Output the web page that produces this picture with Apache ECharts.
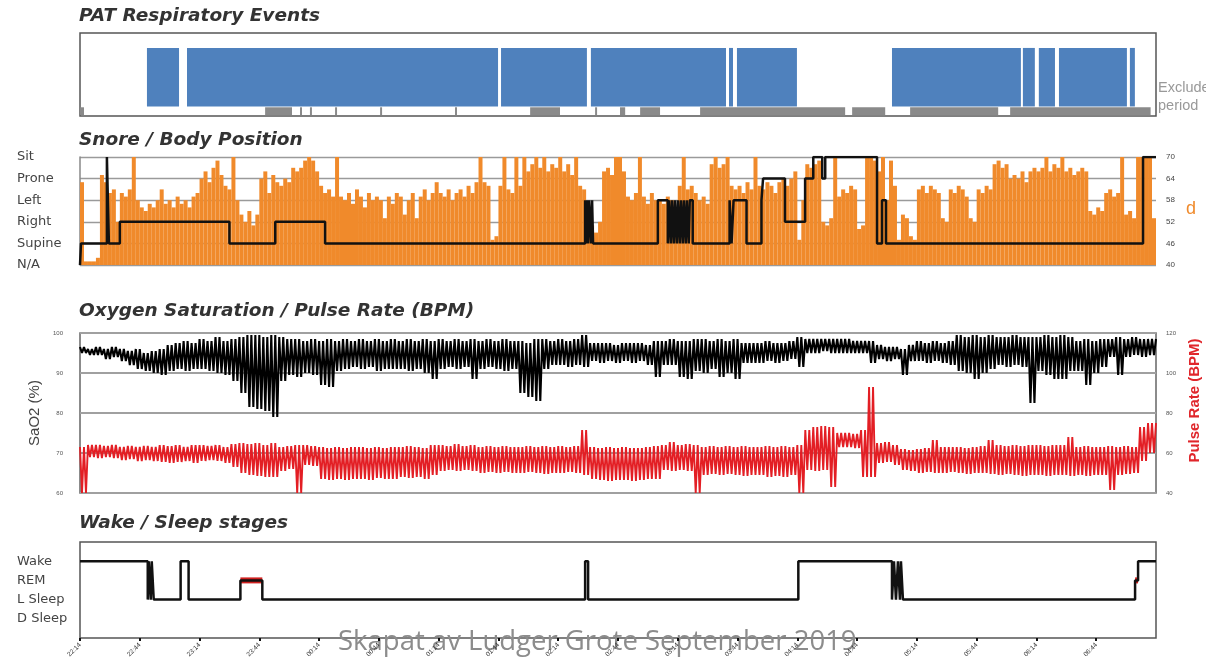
<!DOCTYPE html>
<html><head><meta charset="utf-8">
<script src="https://cdn.jsdelivr.net/npm/echarts@6/dist/echarts.min.js"></script>
<style>html,body{margin:0;padding:0;background:#fff}#c{width:1206px;height:672px}</style>
</head><body><div id="c"></div>
<script>
// ---- time axis (minutes from start of recording) ----
const tickLabels = ['22:14','22:44','23:14','23:44','00:14','00:44','01:14','01:44','02:14','02:44','03:14','03:44','04:14','04:44','05:14','05:44','06:14','06:44'];

// ---- PAT respiratory events (valid periods) and exclusion periods ----
const eventStart = [33.6,53.7,211.3,256.4,325.7,329.7,407.5,473.2,481.2,491.3,526.9];
const eventEnd   = [49.7,209.8,254.4,324.2,327.7,359.8,472.2,479.2,489.3,525.4,529.4];
const exclStart = [0,92.9,110.4,115.4,128,150.6,188.2,225.9,258.5,271,281.1,311.2,387.5,416.6,466.8];
const exclEnd   = [2,106.4,111.4,116.4,129,151.6,189.2,240.9,259.5,273.6,291.1,384.0,404.1,460.8,537.3];

// ---- Snore (dB), one value per 2 minutes ----
const snoreDb = [
63,41,41,41,42, 65,63,60,61,52, 60,59,61,70,58, 56,55,57,56,58, 61,57,58,56,59,
57,58,56,59,60, 64,66,63,67,69, 65,62,61,70,58, 54,52,55,51,54, 64,66,60,65,63,
62,64,63,67,66, 67,69,70,69,66, 62,60,61,59,70, 59,58,60,57,61, 59,56,60,58,59,
58,53,59,57,60, 59,54,58,60,53, 59,61,58,60,63, 60,59,61,58,60, 61,59,62,60,63,
70,63,62,47,48, 62,70,61,60,70, 62,70,66,68,70, 67,70,66,68,67, 70,66,68,65,70,
62,61,50,51,49, 52,66,67,65,70, 70,66,59,58,60, 70,59,57,60,58, 58,57,59,58,56,
62,70,61,62,60, 58,59,57,68,70, 67,68,70,62,61, 62,60,63,61,70, 62,61,63,62,60,
63,64,62,64,66, 47,58,68,67,68, 69,52,51,53,70, 59,61,60,62,61, 50,51,70,70,69,
66,70,58,69,62, 47,54,53,48,47, 61,62,60,62,61, 60,53,52,61,60, 62,61,59,53,52,
61,60,62,61,68, 69,67,68,64,65, 64,66,63,66,67, 66,67,70,66,68, 67,70,66,67,65,
66,67,66,55,54, 56,55,60,61,59, 60,70,54,55,53, 70,70,70,70,53
];
const snoreTicks = [40,46,52,58,64,70];

// ---- Body position (0 N/A,1 Supine,2 Right,3 Left,4 Prone,5 Sit) ----
const positionLabels = ['N/A','Supine','Right','Left','Prone','Sit'];
const posTime  = [0,0.5,13.5,14.5,20,75,98,123,
  253.5,254,254.5,255,255.5,256.5,257,257.5,
  290,295,295.5,296.5,297,298,298.5,299.5,300,301,301.5,302.5,303,304,304.5,305.5,306,307.5,
  326,327,328,334.5,342,342.8,353.8,363.9,368,372.5,374,400,402.5,404.5,533.5,540];
const posLevel = [0,1,5,1,2,1,2,1,
  3,1,3,1,3,1,3,1,
  3,1,3,1,3,1,3,1,3,1,3,1,3,1,3,1,3,1,
  3,1,3,1,3,4,2,4,5,4,5,1,3,1,5,5];

// ---- SaO2 (%) and pulse rate (BPM), high/low per 4-minute slot ----
const spo2Hi = [
96.5,96,96.5,96,96.5, 96,95.5,96,95,95.5, 96,97,97.5,98,97.5, 98.5,98,99,98,98.5,
99,99.5,99.5,99,99.5, 99,98.5,98.5,98,98.5, 98,98.5,98,98.5,98, 98.5,98,98.5,98,98.5,
98,98.5,98,98.5,98, 98.5,98,98.5,98,98.5, 98,98.5,98,98.5,98, 98,97.5,98.5,98.5,98,
98.5,98,98.5,99.5,97.5, 97.5,97.5,97,97.5,97.5, 97.5,97,98,98,98.5, 98,98,98.5,98.5,98,
98.5,98,98.5,97.5,97.5, 97.5,98,97.5,97.5,98, 99,98.5,98.5,98.5,98.5, 98.5,98.5,98,98,98,
97,96.5,96.5,96,97, 98,97.5,98,97.5,98, 99.5,99,99.5,99,99.5, 99,99,99.5,99,99,
99,99.5,99,99.5,99, 98,98.5,98,98.5,98.5, 99,98.5,99,98.5,98.5];
const spo2Lo = [
95,94.5,94.5,93.5,94, 93,92,91,90.5,90, 89.5,90.5,91,90.5,91, 91,90.5,90,89.5,88,
85,81.5,81,80.5,79, 88,89.5,89,90,89.5, 87,86.5,90.5,91,91.5, 91,91.5,90.5,91,91,
91,90.5,91,90,88.5, 91,91.5,91,91.5,88.5, 91,91.5,91,90.5,91, 85,84,83,91,92,
92,91.5,92,91.5,93, 92.5,93,92.5,93,92.5, 93,92,89,92,92, 89,88.5,90.5,90,91,
89,90,88.5,92.5,92.5, 92.5,93,92.5,93,93.5, 91.5,95,95,95.5,95, 95,95,95,95,92.5,
93.5,93,93.5,89.5,93, 93,92.5,93,92.5,92, 90.5,90,88.5,90,91, 92,91.5,92,91.5,82.5,
90.5,89.5,88.5,88.5,90.5, 90.5,87,90,91.5,94, 89.5,94,94.5,94,94.5];
const pulseHi = [
63,64,64,63.5,64, 63,63.5,63,63.5,63, 64,63.5,64,63,64, 64,63.5,64,63,64.5,
65,64.5,65,64,65, 63,63.5,64,64,63.5, 63,62.5,63,62.5,63, 63,62.5,63,62.5,63,
63,63.5,63,62.5,64, 64,63.5,64.5,63.5,64, 63,63.5,63,63.5,63, 63,63.5,63,63.5,63,
63.5,63,63.5,71.5,63, 62.5,63,62.5,63,62.5, 62.5,63,63.5,64,65.5, 64,64.5,64,63,63.5,
63,63.5,63,63.5,63, 63,63.5,63,63.5,63, 64,71.5,73,73.5,73, 70,70,69.5,71.5,93,
65,65.5,64,62,61.5, 62,62.5,66.5,63,63, 63,62.5,63,63.5,66.5, 64,63.5,64,63.5,64,
64,63.5,64,64,68, 63,63.5,63,63,63.5, 63,63.5,63,73,75];
const pulseLo = [
40,58,57.5,58,57.5, 56.5,57,56,56.5,56, 55.5,55,55.5,56,55, 56,56.5,56,55,53,
50,49,48.5,48,48, 51,52,40,54,53.5, 47,46.5,47,46.5,47, 47,46.5,47.5,47,47,
48,47.5,48,47,49, 51,51.5,51,51.5,51, 50,50.5,50,50.5,50, 50,50.5,50,49.5,50,
50,50.5,50,49,47, 46.5,46,46.5,46.5,46, 46.5,47,47,51.5,51, 51.5,51,40,49,49.5,
49,49.5,49,48.5,49, 49,48,48.5,48,49, 40,51.5,51,51.5,43, 63,63,62.5,48,48,
55,55.5,54,51.5,51, 50,50.5,50,50,50.5, 50,49.5,50,50,49.5, 49,49.5,49,48.5,49,
49,48.5,49,49,48.5, 49,48.5,49,49,41.5, 49,49.5,50,56,60];

// ---- Sleep stages (0 D Sleep,1 L Sleep,2 REM,3 Wake) ----
const stageLabels = ['D Sleep','L Sleep','REM','Wake'];
const stageTime  = [0,34,34.5,35.5,36,37,50.5,54.5,80.5,91.5,253.5,255,360.5,407.5,408.5,409.5,410.5,411.5,412,413,529.5,531,540];
const stageLevel = [3,1,3,1,3,1,3,1,2,1,3,1,3,1,3,1,3,1,3,1,2,3,3];

// ---- build series data ----
const zig = (hi, lo) => {
  const out = [];
  hi.forEach((h, j) => {
    out.push([4*j, h], [4*j+1, lo[j]], [4*j+2, h], [4*j+3, lo[j]]);
  });
  out.push([540, hi[hi.length-1]]);
  return out;
};
const remSegs = [];
stageLevel.forEach((l, i) => { if (l === 2 && i < stageTime.length-1) remSegs.push([stageTime[i], stageTime[i+1]]); });

const rectItem = (y0, y1, fill) => (params, api) => {
  const a = api.coord([api.value(0), y0]);
  const b = api.coord([api.value(1), y1]);
  return {type:'rect', shape:{x:a[0], y:b[1], width:Math.max(b[0]-a[0],1), height:a[1]-b[1]}, style:{fill}};
};
const hid = gi => ({type:'value', gridIndex:gi, min:0, max:540, show:false});
const gridBase = {left:80, right:50, outerBoundsMode:'none', containLabel:false};

const titleFont = {fontFamily:'DejaVu Sans', fontWeight:'bold', fontStyle:'italic', fontSize:18.5, fill:'#333'};
const mkTitle = (text, y) => ({type:'text', left:79, top:y, style:Object.assign({text}, titleFont)});
const sideFont = {fontSize:13, fontFamily:'DejaVu Sans', color:'#444'};

const chart = echarts.init(document.getElementById('c'), null, {renderer:'canvas'});
chart.setOption({
  animation:false,
  backgroundColor:'#fff',
  grid:[
    Object.assign({top:33, height:83, show:true, borderColor:'#555', borderWidth:1.5}, gridBase),
    Object.assign({top:157, height:108}, gridBase),
    Object.assign({top:333, height:160, show:true, borderColor:'#666', borderWidth:1.5}, gridBase),
    Object.assign({top:542, height:96, show:true, borderColor:'#555', borderWidth:1.5}, gridBase)
  ],
  xAxis:[
    hid(0),
    {type:'category', gridIndex:1, data:snoreDb.map((_, i) => i), show:false, boundaryGap:true},
    hid(1),
    hid(2),
    {type:'value', gridIndex:3, min:0, max:540, interval:30, position:'bottom',
     axisLine:{show:false, onZero:false},
     axisTick:{show:true, length:3, lineStyle:{color:'#111', width:2}},
     splitLine:{show:false},
     axisLabel:{rotate:45, fontSize:6.5, color:'#333', margin:6, showMaxLabel:false,
                formatter:v => tickLabels[Math.round(v/30)] || ''}}
  ],
  yAxis:[
    {type:'value', gridIndex:0, min:0, max:10, show:false},
    {type:'value', gridIndex:1, min:0, max:5, interval:1, position:'left',
     axisLine:{show:true, lineStyle:{color:'#888', width:1.5}}, axisTick:{show:false},
     splitLine:{show:true, lineStyle:{color:'#9a9a9a', width:1.3}},
     axisLabel:Object.assign({align:'left', margin:63, formatter:v => positionLabels[v]}, sideFont)},
    {type:'value', gridIndex:1, min:40, max:70, interval:6, position:'right',
     axisLine:{show:false}, axisTick:{show:false}, splitLine:{show:false},
     axisLabel:{fontSize:8, color:'#444', margin:10, formatter:v => snoreTicks.includes(v) ? String(v) : ''}},
    {type:'value', gridIndex:2, min:60, max:100, interval:10, position:'left',
     name:'SaO2 (%)', nameLocation:'middle', nameRotate:90, nameGap:22,
     nameTextStyle:{fontSize:15, color:'#444', fontFamily:'Liberation Sans'},
     axisLine:{show:false}, axisTick:{show:false},
     splitLine:{show:true, lineStyle:{color:'#a0a0a0', width:2}},
     axisLabel:{fontSize:6, color:'#555', margin:17}},
    {type:'value', gridIndex:2, min:40, max:120, interval:20, position:'right',
     name:'Pulse Rate (BPM)', nameLocation:'middle', nameRotate:90, nameGap:30,
     nameTextStyle:{fontSize:15, fontWeight:'bold', color:'#e0262b', fontFamily:'Liberation Sans', padding:[0,0,0,25]},
     axisLine:{show:false}, axisTick:{show:false}, splitLine:{show:false},
     axisLabel:{fontSize:6, color:'#555', margin:10}},
    {type:'value', gridIndex:3, min:-1, max:4, interval:1,
     axisLine:{show:false}, axisTick:{show:false}, splitLine:{show:false},
     axisLabel:Object.assign({align:'left', margin:63, formatter:v => stageLabels[v] || ''}, sideFont)}
  ],
  series:[
    {type:'custom', xAxisIndex:0, yAxisIndex:0, renderItem:rectItem(1.15, 8.2, '#4f81bd'),
     data:eventStart.map((s, i) => [s, eventEnd[i]])},
    {type:'custom', xAxisIndex:0, yAxisIndex:0, renderItem:rectItem(0.1, 1.05, '#8a8a8a'),
     data:exclStart.map((s, i) => [s, exclEnd[i]])},
    {type:'bar', xAxisIndex:1, yAxisIndex:2, data:snoreDb, barCategoryGap:'0%',
     itemStyle:{color:'#f08a2b'}},
    {type:'line', xAxisIndex:2, yAxisIndex:1, step:'end', symbol:'none',
     data:posTime.map((t, i) => [t, posLevel[i]]),
     lineStyle:{color:'#111', width:2.5}},
    {type:'line', xAxisIndex:3, yAxisIndex:3, symbol:'none', data:zig(spo2Hi, spo2Lo),
     lineStyle:{color:'#000', width:2.1}},
    {type:'line', xAxisIndex:3, yAxisIndex:4, symbol:'none', data:zig(pulseHi, pulseLo),
     lineStyle:{color:'#e31e24', width:1.9}},
    {type:'custom', xAxisIndex:4, yAxisIndex:5, data:remSegs,
     renderItem:(params, api) => {
       const a = api.coord([api.value(0), 2]);
       const b = api.coord([api.value(1), 2]);
       return {type:'line', shape:{x1:a[0], y1:a[1], x2:b[0], y2:b[1]}, style:{stroke:'#d0201f', lineWidth:6}};
     }},
    {type:'line', xAxisIndex:4, yAxisIndex:5, step:'end', symbol:'none',
     data:stageTime.map((t, i) => [t, stageLevel[i]]),
     lineStyle:{color:'#111', width:2.5}}
  ],
  graphic:[
    mkTitle('PAT Respiratory Events', 7),
    mkTitle('Snore / Body Position', 131),
    mkTitle('Oxygen Saturation / Pulse Rate (BPM)', 302),
    mkTitle('Wake / Sleep stages', 514),
    {type:'text', left:1158, top:80, style:{text:'Excluded', fontSize:14.5, fill:'#999', fontFamily:'Liberation Sans'}},
    {type:'text', left:1158, top:98, style:{text:'period', fontSize:14.5, fill:'#999', fontFamily:'Liberation Sans'}},
    {type:'text', left:1186, top:200, style:{text:'d', fontSize:18, fill:'#f08a2b', fontFamily:'Liberation Sans'}},
    {type:'text', left:338, top:628, style:{text:'Skapat av Ludger Grote September 2019', fontSize:27.5, fill:'#8c8c8c', fontFamily:'Open Sans'}}
  ]
});
</script></body></html>
